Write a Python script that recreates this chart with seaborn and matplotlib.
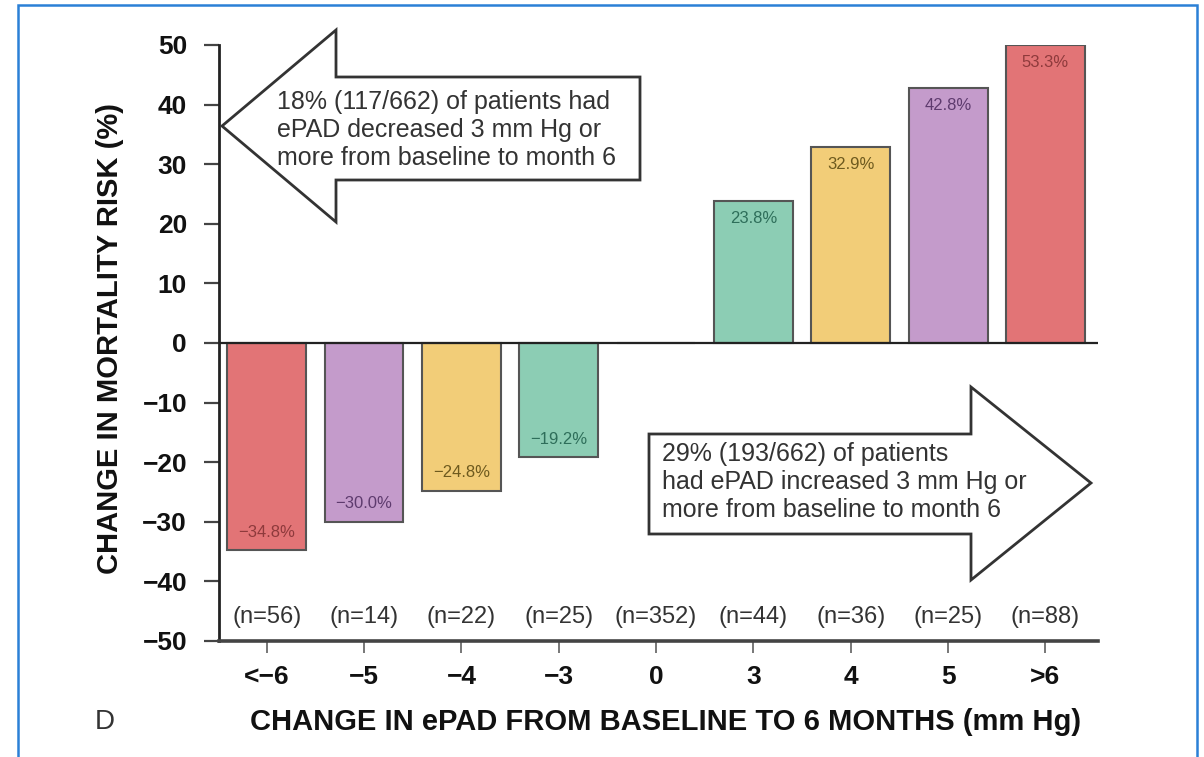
import numpy as np
import pandas as pd
import matplotlib
matplotlib.use("Agg")
import matplotlib.pyplot as plt
import seaborn as sns
from matplotlib.patches import Polygon, Rectangle

# ---- data ----
categories = ["<\u22126", "\u22125", "\u22124", "\u22123", "0", "3", "4", "5", ">6"]
risk_change = [-34.8, -30.0, -24.8, -19.2, 0.0, 23.8, 32.9, 42.8, 53.3]
value_labels = ["\u221234.8%", "\u221230.0%", "\u221224.8%", "\u221219.2%", "", "23.8%", "32.9%", "42.8%", "53.3%"]
n_labels = ["(n=56)", "(n=14)", "(n=22)", "(n=25)", "(n=352)", "(n=44)", "(n=36)", "(n=25)", "(n=88)"]
y_ticks = [-50, -40, -30, -20, -10, 0, 10, 20, 30, 40, 50]

bar_colors = ["#E27476", "#C49BCB", "#F2CD78", "#8CCDB4", "#FFFFFF",
              "#8CCDB4", "#F2CD78", "#C49BCB", "#E27476"]
label_colors = ["#8E3A3C", "#5E3B6E", "#6E5A1E", "#2E6E5A", "#000000",
                "#2E6E5A", "#6E5A1E", "#5E3B6E", "#8E3A3C"]

left_text = "18% (117/662) of patients had\nePAD decreased 3 mm Hg or\nmore from baseline to month 6"
right_text = "29% (193/662) of patients\nhad ePAD increased 3 mm Hg or\nmore from baseline to month 6"

YMIN, YMAX = -50, 50

sns.set_theme(style="white")
plt.rcParams["font.family"] = ["Liberation Sans", "DejaVu Sans"]

df = pd.DataFrame({"cat": categories,
                   "val": np.clip(risk_change, YMIN, YMAX)})

W, H = 1204, 757
fig = plt.figure(figsize=(W / 100, H / 100), dpi=100)
ax_l, ax_r, ax_t, ax_b = 219, 1098, 45, 641
ax = fig.add_axes([ax_l / W, 1 - ax_b / H, (ax_r - ax_l) / W, (ax_b - ax_t) / H])

sns.barplot(data=df, x="cat", y="val", hue="cat", order=categories,
            hue_order=categories, palette=bar_colors, legend=False,
            width=0.81, edgecolor="#555555", linewidth=1.5, saturation=1, ax=ax)

ax.set_ylim(YMIN, YMAX)
ax.set_xlim(-0.49, 8.54)
ax.axhline(0, color="#222222", lw=1.6, zorder=3)

# value labels inside bars
for i, (v, lab) in enumerate(zip(risk_change, value_labels)):
    if not lab:
        continue
    vv = min(max(v, YMIN), YMAX)
    y = vv - 2.9 if v > 0 else vv + 3.0
    ax.text(i, y, lab, ha="center", va="center", fontsize=12, color=label_colors[i])

# n labels
for i, n in enumerate(n_labels):
    ax.text(i, -46.0, n, ha="center", va="center", fontsize=17, color="#333333")

# spines / ticks
for s in ["top", "right"]:
    ax.spines[s].set_visible(False)
ax.spines["left"].set_color("#222222")
ax.spines["left"].set_linewidth(2.0)
ax.spines["bottom"].set_color("#444444")
ax.spines["bottom"].set_linewidth(2.6)

ax.set_yticks(y_ticks)
ax.set_yticklabels([("\u2212" + str(-t)) if t < 0 else str(t) for t in y_ticks])
ax.tick_params(axis="y", direction="out", length=11, width=1.6, color="#444444",
               pad=12, labelsize=19, labelcolor="#111111")
ax.tick_params(axis="x", direction="out", length=8.5, width=1.4, color="#777777",
               pad=9, labelsize=19, labelcolor="#111111")
ax.tick_params(left=True, bottom=True)
for t in ax.get_yticklabels() + ax.get_xticklabels():
    t.set_fontweight("bold")

ax.set_xlabel("CHANGE IN ePAD FROM BASELINE TO 6 MONTHS (mm Hg)", fontsize=21,
              fontweight="bold", color="#111111")
ax.set_ylabel("CHANGE IN MORTALITY RISK (%)", fontsize=21, fontweight="bold",
              color="#111111")
ax.xaxis.label.set_va("center")
ax.yaxis.label.set_va("center")
ax.xaxis.set_label_coords((666 - ax_l) / (ax_r - ax_l), (ax_b - 722) / (ax_b - ax_t))
ax.yaxis.set_label_coords((110 - ax_l) / (ax_r - ax_l), (ax_b - 338) / (ax_b - ax_t))


def to_ax(px, py):
    return ((px - ax_l) / (ax_r - ax_l), (ax_b - py) / (ax_b - ax_t))


left_arrow = [to_ax(*p) for p in [(222, 126), (336, 30), (336, 77), (640, 77),
                                   (640, 180), (336, 180), (336, 222)]]
right_arrow = [to_ax(*p) for p in [(1091, 483), (971, 387), (971, 434), (649, 434),
                                    (649, 534), (971, 534), (971, 580)]]
for pts in (left_arrow, right_arrow):
    ax.add_patch(Polygon(pts, closed=True, transform=ax.transAxes, facecolor="white",
                         edgecolor="#333333", lw=2.0, clip_on=False, zorder=5))

tx, ty = to_ax(277, 130)
ax.text(tx, ty, left_text, transform=ax.transAxes, ha="left", va="center",
        fontsize=18, color="#333333", zorder=6, linespacing=1.2)
tx, ty = to_ax(662, 482)
ax.text(tx, ty, right_text, transform=ax.transAxes, ha="left", va="center",
        fontsize=18, color="#333333", zorder=6, linespacing=1.2)

# panel letter
fig.text(105 / W, 1 - 722 / H, "D", ha="center", va="center", fontsize=20, color="#333333")

# blue frame
fig.patches.append(Rectangle((18 / W, -0.05), (1197 - 18) / W, 1.05 - 5 / H,
                             transform=fig.transFigure, facecolor="none",
                             edgecolor="#2B80D6", lw=1.8, clip_on=False))

fig.savefig("out.png", dpi=100)
